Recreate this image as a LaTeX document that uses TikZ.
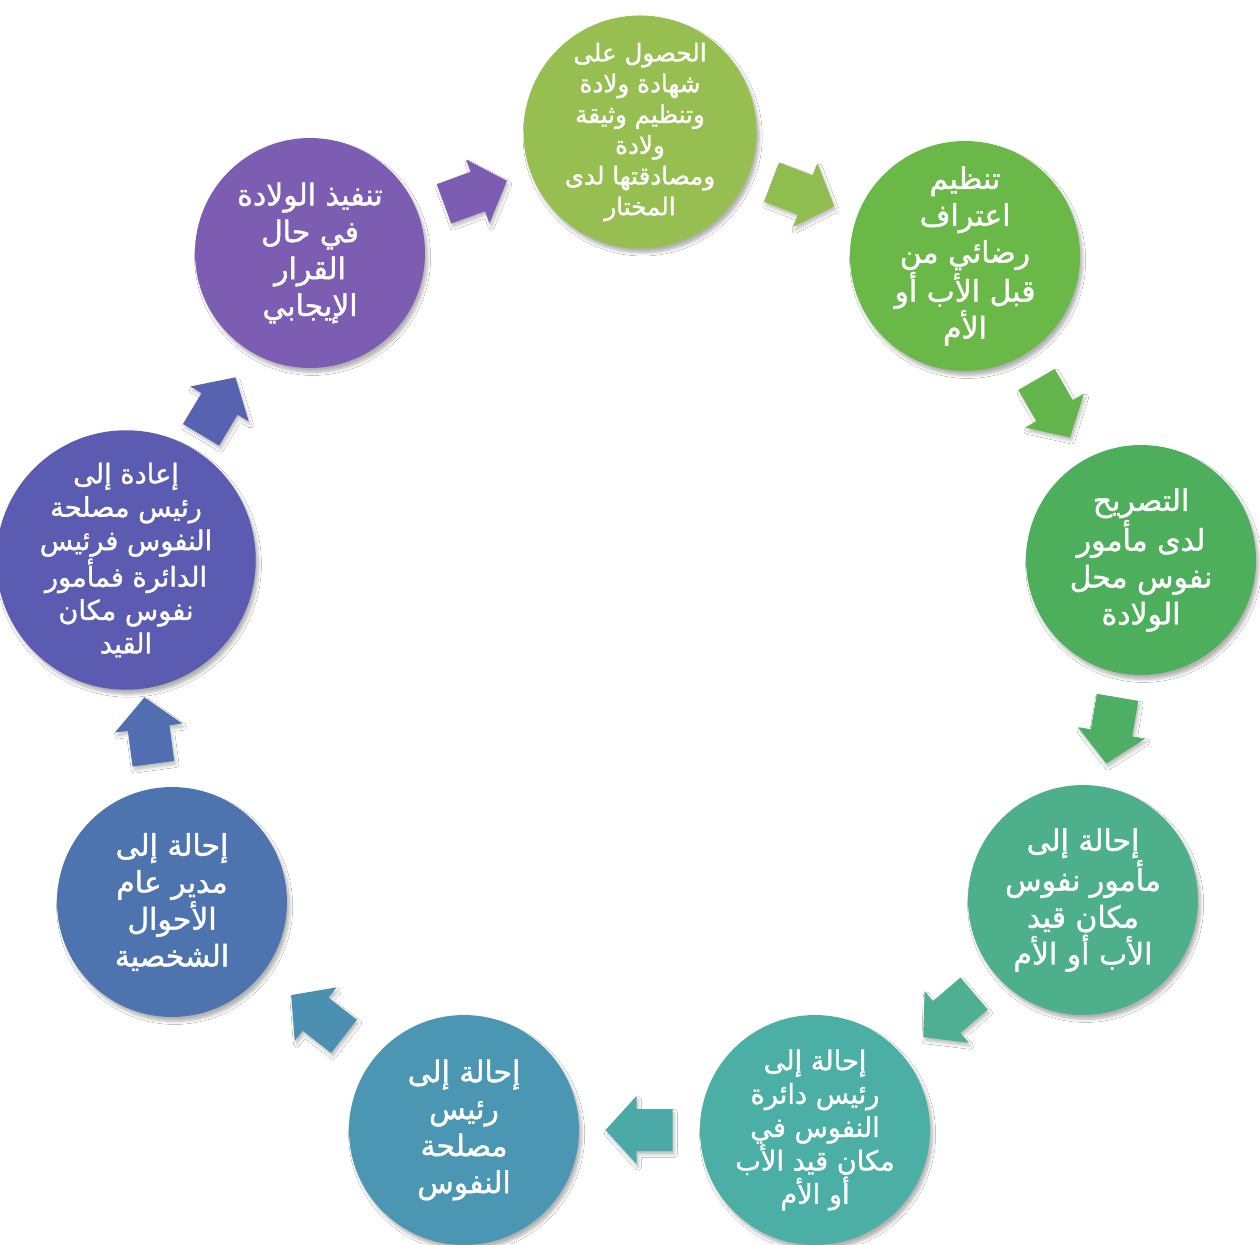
\documentclass[tikz,border=0pt]{standalone}
\usepackage{fontspec}
\newfontfamily\arabicfont[Script=Arabic, FakeBold=1.3]{DejaVu Sans}
\TeXXeTstate=1
\usetikzlibrary{calc,shadows.blur}
\newcommand{\AR}[1]{\beginR #1\endR}
\definecolor{c1}{HTML}{96BE50}
\definecolor{c2}{HTML}{6AB848}
\definecolor{c3}{HTML}{4DAE5B}
\definecolor{c4}{HTML}{4EB08A}
\definecolor{c5}{HTML}{4BAFA6}
\definecolor{c6}{HTML}{4B96B2}
\definecolor{c7}{HTML}{4E74B0}
\definecolor{c8}{HTML}{5B5BB2}
\definecolor{c9}{HTML}{7C5DB1}
\tikzset{
  stepcircle/.style={circle, minimum size=4.6cm, inner sep=0pt, text=white, align=center,
    font=\arabicfont\fontsize{17}{21}\selectfont,
    blur shadow={shadow xshift=1.5pt, shadow yshift=-2.5pt, shadow blur steps=6, shadow opacity=30}},
  smalltext/.style={font=\arabicfont\fontsize{14}{17.5}\selectfont},
  midtext/.style={font=\arabicfont\fontsize{15.5}{19}\selectfont},
  flowarrow/.style={draw=none, blur shadow={shadow xshift=1pt, shadow yshift=-2pt, shadow blur steps=4, shadow opacity=25}}
}
% block arrow from node #1 towards node #2, colour #3
\newcommand{\blockarrow}[3]{%
  \fill[flowarrow, #3] let \p1=($(#2)-(#1)$), \n1={atan2(\y1,\x1)} in
    [shift={($(#1)!0.5!(#2)$)}, rotate=\n1]
    (-0.66cm,-0.42cm) -- (0.06cm,-0.42cm) -- (0.06cm,-0.68cm) -- (0.68cm,0cm)
    -- (0.06cm,0.68cm) -- (0.06cm,0.42cm) -- (-0.66cm,0.42cm) -- cycle;}
\begin{document}
\begin{tikzpicture}[x=0.02cm, y=-0.02cm]
\useasboundingbox[fill=white] (0,0) rectangle (1260,1244);
\node[stepcircle, smalltext, fill=c1] (n1) at (640,132)
  {\AR{الحصول على}\\\AR{شهادة ولادة}\\\AR{وتنظيم وثيقة}\\\AR{ولادة}\\\AR{ومصادقتها لدى}\\\AR{المختار}};
\node[stepcircle, fill=c2] (n2) at (965,256)
  {\AR{تنظيم}\\\AR{اعتراف}\\\AR{رضائي من}\\\AR{قبل الأب أو}\\\AR{الأم}};
\node[stepcircle, fill=c3] (n3) at (1141,560)
  {\AR{التصريح}\\\AR{لدى مأمور}\\\AR{نفوس محل}\\\AR{الولادة}};
\node[stepcircle, fill=c4] (n4) at (1083,900)
  {\AR{إحالة إلى}\\\AR{مأمور نفوس}\\\AR{مكان قيد}\\\AR{الأب أو الأم}};
\node[stepcircle, midtext, fill=c5] (n5) at (815,1130)
  {\AR{إحالة إلى}\\\AR{رئيس دائرة}\\\AR{النفوس في}\\\AR{مكان قيد الأب}\\\AR{أو الأم}};
\node[stepcircle, fill=c6] (n6) at (464,1130)
  {\AR{إحالة إلى}\\\AR{رئيس}\\\AR{مصلحة}\\\AR{النفوس}};
\node[stepcircle, fill=c7] (n7) at (172,902)
  {\AR{إحالة إلى}\\\AR{مدير عام}\\\AR{الأحوال}\\\AR{الشخصية}};
\node[stepcircle, midtext, fill=c8] (n8) at (126,560)
  {\AR{إعادة إلى}\\\AR{رئيس مصلحة}\\\AR{النفوس فرئيس}\\\AR{الدائرة فمأمور}\\\AR{نفوس مكان}\\\AR{القيد}};
\node[stepcircle, fill=c9] (n9) at (310,253)
  {\AR{تنفيذ الولادة}\\\AR{في حال}\\\AR{القرار}\\\AR{الإيجابي}};
\blockarrow{n1}{n2}{c1!85!c2}
\blockarrow{n2}{n3}{c2!80!c3}
\blockarrow{n3}{n4}{c3!80!c4}
\blockarrow{n4}{n5}{c4!80!c5}
\blockarrow{n5}{n6}{c5!80!c6}
\blockarrow{n6}{n7}{c6!80!c7}
\blockarrow{n7}{n8}{c7!80!c8}
\blockarrow{n8}{n9}{c8!70!c7}
\blockarrow{n9}{n1}{c9}
\end{tikzpicture}
\end{document}
